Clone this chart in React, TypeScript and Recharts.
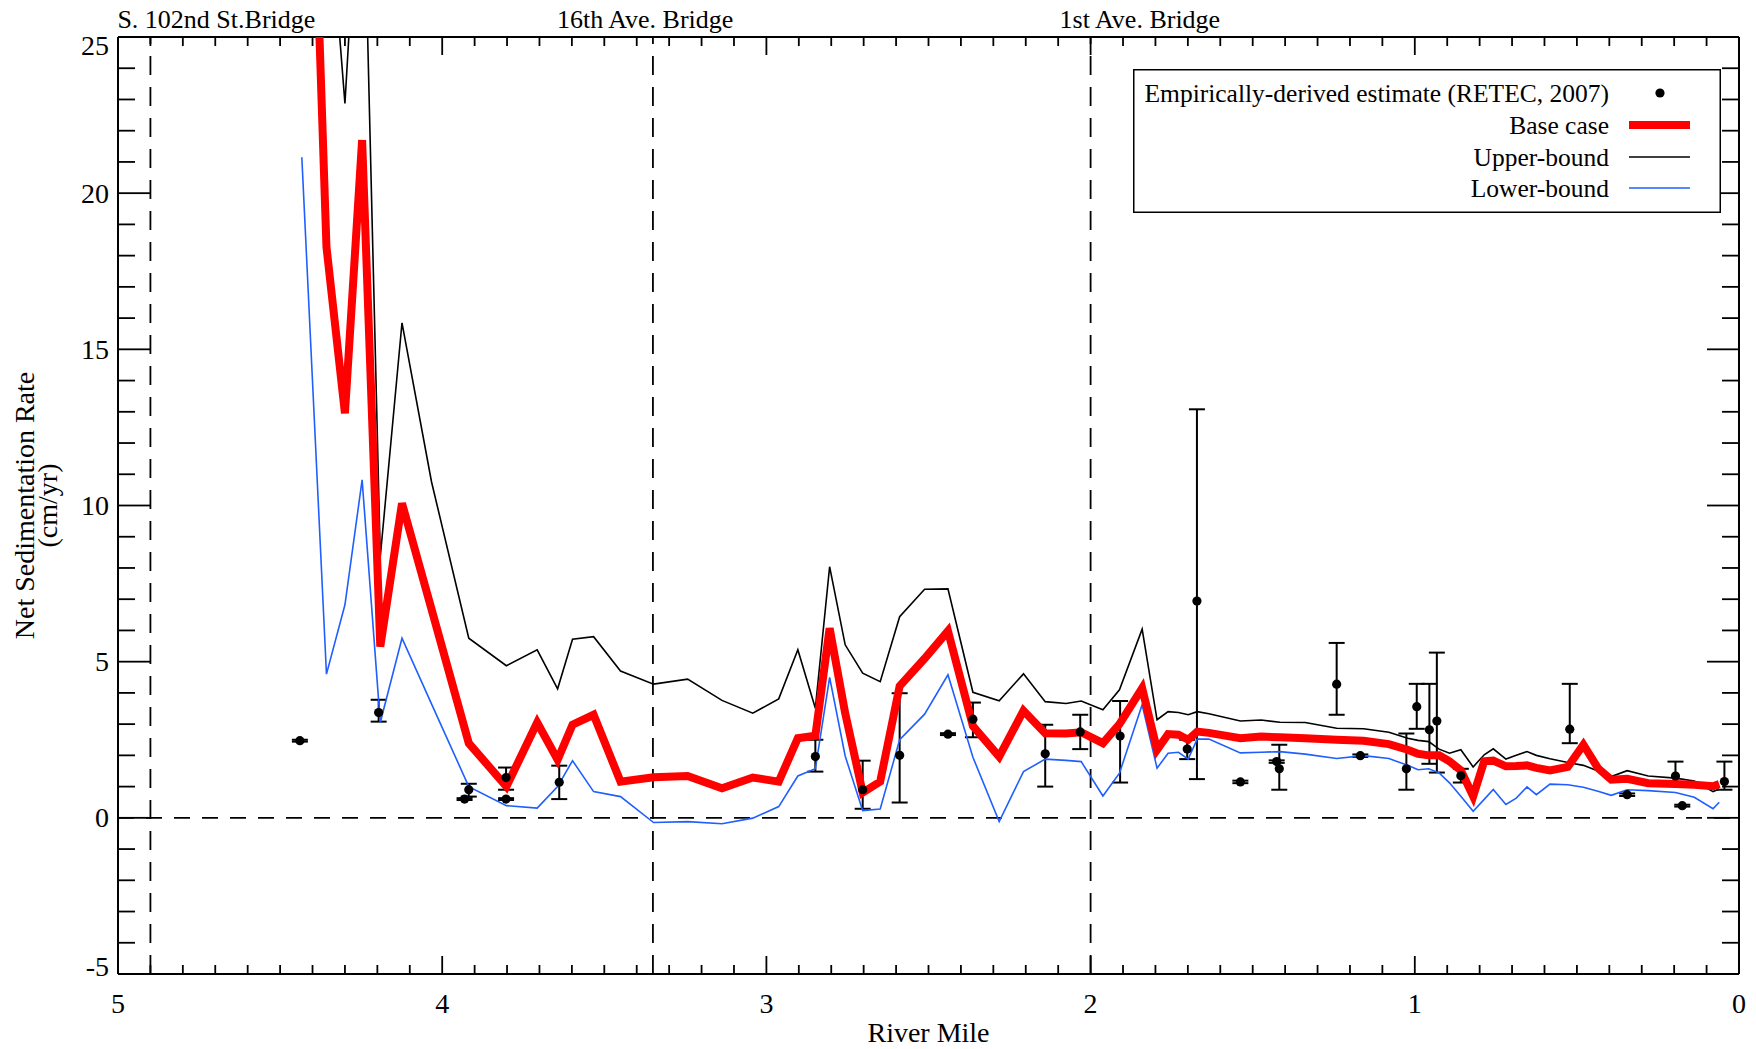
import React from 'react';
import { ComposedChart, Line, Scatter, XAxis, YAxis, ReferenceLine, ErrorBar } from 'recharts';

const FONT = "'Liberation Serif', 'Times New Roman', serif";

// River mile positions of the model output
const riverMile = [
  4.433, 4.357, 4.300, 4.247, 4.191, 4.124, 4.033, 3.918, 3.802, 3.707,
  3.644, 3.598, 3.533, 3.450, 3.348, 3.243, 3.137, 3.042, 2.962, 2.903,
  2.849, 2.805, 2.757, 2.703, 2.649, 2.589, 2.512, 2.440, 2.363, 2.282,
  2.207, 2.140, 2.076, 2.029, 1.962, 1.911, 1.841, 1.795, 1.761, 1.729,
  1.699, 1.671, 1.635, 1.538, 1.474, 1.416, 1.338, 1.241, 1.158, 1.080,
  1.022, 0.990, 0.957, 0.925, 0.893, 0.858, 0.820, 0.786, 0.758, 0.719,
  0.687, 0.654, 0.625, 0.583, 0.528, 0.480, 0.435, 0.394, 0.345, 0.280,
  0.196, 0.138, 0.080, 0.061,
];

const baseCase = [
  42.0, 18.28, 12.95, 21.7, 5.48, 10.07, 6.68, 2.39, 1.0, 3.05,
  1.86, 2.98, 3.30, 1.16, 1.30, 1.34, 0.95, 1.29, 1.16, 2.55,
  2.63, 6.07, 3.35, 0.81, 1.16, 4.22, 5.1, 5.98, 2.94, 1.96,
  3.43, 2.71, 2.70, 2.74, 2.39, 3.0, 4.15, 2.18, 2.68, 2.66,
  2.50, 2.76, 2.72, 2.55, 2.60, 2.58, 2.55, 2.50, 2.47, 2.36,
  2.18, 2.05, 2.00, 2.00, 1.81, 1.52, 0.69, 1.81, 1.83, 1.65,
  1.66, 1.68, 1.60, 1.52, 1.63, 2.34, 1.59, 1.22, 1.25, 1.11,
  1.08, 1.06, 1.01, 1.08,
];

const upperBound = [
  45.0, 30.4, 22.87, 32.3, 8.36, 15.85, 10.76, 5.75, 4.87, 5.38,
  4.13, 5.72, 5.80, 4.70, 4.28, 4.44, 3.76, 3.35, 3.81, 5.38,
  3.51, 8.04, 5.54, 4.63, 4.36, 6.44, 7.32, 7.33, 4.02, 3.75,
  4.61, 3.72, 3.66, 3.74, 3.46, 4.10, 6.04, 3.14, 3.40, 3.37,
  3.30, 3.40, 3.33, 3.10, 3.13, 3.06, 3.05, 2.87, 2.85, 2.74,
  2.55, 2.48, 2.44, 2.20, 2.07, 2.18, 1.63, 2.02, 2.21, 1.88,
  2.00, 2.12, 2.00, 1.89, 1.77, 1.68, 1.50, 1.32, 1.51, 1.34,
  1.27, 1.18, 0.84, 0.92,
];

const lowerBound = [
  21.15, 4.60, 6.82, 10.82, 3.05, 5.75, 3.65, 1.0, 0.39, 0.31,
  1.0, 1.83, 0.84, 0.68, -0.15, -0.12, -0.19, -0.01, 0.36, 1.34,
  1.57, 4.50, 1.98, 0.23, 0.28, 2.50, 3.32, 4.58, 1.94, -0.12,
  1.48, 1.88, 1.84, 1.80, 0.70, 1.43, 3.62, 1.59, 2.07, 2.10,
  1.88, 2.52, 2.52, 2.08, 2.10, 2.12, 2.04, 1.90, 1.99, 1.90,
  1.68, 1.54, 1.57, 1.44, 1.12, 0.69, 0.21, 0.59, 0.91, 0.43,
  0.63, 0.99, 0.74, 1.08, 1.06, 0.98, 0.85, 0.72, 0.90, 0.87,
  0.81, 0.66, 0.29, 0.50,
];

// Empirically-derived estimate (RETEC, 2007)
const obsMile = [
  4.439, 4.196, 3.931, 3.918, 3.803, 3.803, 3.639, 2.849, 2.703, 2.589,
  2.440, 2.363, 2.140, 2.032, 1.909, 1.702, 1.672, 1.538, 1.426, 1.418,
  1.241, 1.168, 1.026, 0.994, 0.955, 0.932, 0.858, 0.522, 0.345, 0.196,
  0.175, 0.045,
];
const obsRate = [
  2.47, 3.37, 0.60, 0.90, 0.60, 1.29, 1.14, 1.96, 0.90, 2.0,
  2.68, 3.16, 2.05, 2.75, 2.62, 2.20, 6.94, 1.15, 1.80, 1.57,
  4.28, 1.99, 1.57, 3.56, 2.82, 3.10, 1.35, 2.84, 0.74, 1.34,
  0.39, 1.16,
];
const obsErrLow = [
  0.03, 0.29, 0.03, 0.22, 0.03, 0.39, 0.54, 0.48, 0.61, 1.51,
  0.03, 0.58, 1.05, 0.55, 1.49, 0.32, 5.70, 0.04, 0.04, 0.67,
  0.98, 0.04, 0.67, 0.71, 1.09, 1.65, 0.22, 0.45, 0.04, 0.29,
  0.03, 0.26,
];
const obsErrHigh = [
  0.03, 0.41, 0.03, 0.19, 0.03, 0.32, 0.53, 0.54, 0.93, 1.99,
  0.03, 0.53, 0.93, 0.55, 1.12, 0.30, 6.14, 0.04, 0.04, 0.77,
  1.32, 0.04, 1.13, 0.73, 1.47, 2.19, 0.22, 1.45, 0.04, 0.46,
  0.03, 0.64,
];

const bridgeMiles = [4.9, 3.35, 2.0];
const bridgeNames = ['S. 102nd St.Bridge', '16th Ave. Bridge', '1st Ave. Bridge'];
const bridgeLabelDx = [-33, -96, -31];

const xMajorTicks = [5, 4, 3, 2, 1, 0];
const yMajorTicks = [-5, 0, 5, 10, 15, 20, 25];
const xMinorTicks = Array.from({ length: 51 }, (_, i) => i / 10);
const yMinorTicks = Array.from({ length: 31 }, (_, i) => i - 5);
const topTicks = [...xMinorTicks, 3.35];

const legendLabels = [
  'Empirically-derived estimate (RETEC, 2007)',
  'Base case',
  'Upper-bound',
  'Lower-bound',
];

const baseData = riverMile.map((x, i) => ({ x, y: baseCase[i] }));
const upperData = riverMile.map((x, i) => ({ x, y: upperBound[i] }));
const lowerData = riverMile.map((x, i) => ({ x, y: lowerBound[i] }));
const obsData = obsMile.map((x, i) => ({ x, y: obsRate[i], err: [obsErrLow[i], obsErrHigh[i]] }));

const RED = '#ff0000';
const BLUE = '#1f5fff';
const X_DOMAIN: [number, number] = [0, 5];
const Y_DOMAIN: [number, number] = [-5, 25];
const TICK_W = 1.8;
const Y_LABEL_GAP = 9;
const X_MAJ = 18, X_MIN = 9, Y_MAJ = 32, Y_MIN = 17;

const isXMajor = (v: number) => xMajorTicks.includes(v);
const isXTick = (v: number) => xMinorTicks.includes(v);
const isYMajor = (v: number) => yMajorTicks.includes(v);

const XBottomTick = (p: any) => {
  const v = p.payload.value;
  const len = isXMajor(v) ? X_MAJ : X_MIN;
  return (
    <g>
      <line x1={p.x} y1={p.y} x2={p.x} y2={p.y - len} stroke="#000" strokeWidth={TICK_W} />
      {isXMajor(v) && (
        <text x={p.x} y={p.y + 29.5} textAnchor="middle" dominantBaseline="central" fontSize={28} fontFamily={FONT} fill="#000">
          {v}
        </text>
      )}
    </g>
  );
};

const XTopTick = (p: any) => {
  const v = p.payload.value;
  const bi = bridgeMiles.indexOf(v);
  const len = isXMajor(v) ? X_MAJ : X_MIN;
  return (
    <g>
      {isXTick(v) && <line x1={p.x} y1={p.y} x2={p.x} y2={p.y + len} stroke="#000" strokeWidth={TICK_W} />}
      {bi >= 0 && (
        <text x={p.x + bridgeLabelDx[bi]} y={p.y - 9} textAnchor="start" fontSize={26} fontFamily={FONT} fill="#000">
          {bridgeNames[bi]}
        </text>
      )}
    </g>
  );
};

const YLeftTick = (p: any) => {
  const v = p.payload.value;
  const major = isYMajor(v);
  const x0 = p.x + Y_LABEL_GAP;
  const shift = v === 25 ? 8 : v === -5 ? -8 : 0;
  return (
    <g>
      <line x1={x0} y1={p.y} x2={x0 + (major ? Y_MAJ : Y_MIN)} y2={p.y} stroke="#000" strokeWidth={TICK_W} />
      {major && (
        <text x={p.x} y={p.y + shift} textAnchor="end" dominantBaseline="central" fontSize={28} fontFamily={FONT} fill="#000">
          {v}
        </text>
      )}
    </g>
  );
};

const YRightTick = (p: any) => {
  const v = p.payload.value;
  const len = isYMajor(v) ? Y_MAJ : Y_MIN;
  return <line x1={p.x} y1={p.y} x2={p.x - len} y2={p.y} stroke="#000" strokeWidth={TICK_W} />;
};

const YTitle = (p: any) => {
  const vb = p.viewBox ?? { x: 0, y: 37, width: 118, height: 937 };
  const cy = vb.y + vb.height / 2;
  const x1 = vb.x + 24.6;
  const x2 = vb.x + 47;
  return (
    <g>
      <text x={x1} y={cy} transform={`rotate(-90 ${x1} ${cy})`} textAnchor="middle" dominantBaseline="central" fontSize={28} fontFamily={FONT} fill="#000">
        Net Sedimentation Rate
      </text>
      <text x={x2} y={cy} transform={`rotate(-90 ${x2} ${cy})`} textAnchor="middle" dominantBaseline="central" fontSize={28} fontFamily={FONT} fill="#000">
        (cm/yr)
      </text>
    </g>
  );
};

const Dot = (p: any) => <circle cx={p.cx} cy={p.cy} r={4.6} fill="#000" />;

const LegendBox = () => {
  const rows = [24, 56, 88, 119];
  return (
    <svg width={588} height={144} style={{ position: 'absolute', left: 1133, top: 69 }}>
      <rect x={0.75} y={0.75} width={586.5} height={142.5} fill="#fff" stroke="#000" strokeWidth={1.5} />
      {legendLabels.map((t, i) => (
        <text key={t} x={476} y={rows[i]} textAnchor="end" dominantBaseline="central" fontSize={25.5} fontFamily={FONT} fill="#000">
          {t}
        </text>
      ))}
      <circle cx={527} cy={rows[0]} r={4.6} fill="#000" />
      <line x1={496} x2={557} y1={rows[1]} y2={rows[1]} stroke={RED} strokeWidth={8} />
      <line x1={496} x2={557} y1={rows[2]} y2={rows[2]} stroke="#000" strokeWidth={1.6} />
      <line x1={496} x2={557} y1={rows[3]} y2={rows[3]} stroke={BLUE} strokeWidth={1.6} />
    </svg>
  );
};

export default function App() {
  return (
    <div style={{ position: 'relative', width: 1756, height: 1049, marginTop: -8, marginLeft: -8, fontFamily: FONT }}>
      <ComposedChart width={1756} height={1049} margin={{ top: 0, right: 0, bottom: 0, left: 0 }}>
        <XAxis
          xAxisId="x" type="number" dataKey="x" domain={X_DOMAIN} reversed allowDataOverflow
          orientation="bottom" height={75} ticks={xMinorTicks} interval={0}
          tickLine={false} tickSize={0} tickMargin={0} axisLine={false} tick={XBottomTick}
          label={{ value: 'River Mile', position: 'insideBottom', offset: 7, fontSize: 28, fontFamily: FONT, fill: '#000' }}
        />
        <XAxis
          xAxisId="top" type="number" dataKey="x" domain={X_DOMAIN} reversed allowDataOverflow
          orientation="top" height={37} ticks={topTicks} interval={0}
          tickLine={false} tickSize={0} tickMargin={0} axisLine={false} tick={XTopTick}
        />
        <YAxis
          yAxisId="y" type="number" domain={Y_DOMAIN} allowDataOverflow orientation="left" width={118}
          ticks={yMinorTicks} interval={0} tickLine={false} tickSize={0} tickMargin={Y_LABEL_GAP} axisLine={false} tick={YLeftTick}
          label={{ content: YTitle }}
        />
        <YAxis
          yAxisId="right" type="number" domain={Y_DOMAIN} allowDataOverflow orientation="right" width={17}
          ticks={yMinorTicks} interval={0} tickLine={false} tickSize={0} tickMargin={0} axisLine={false} tick={YRightTick}
        />

        {/* plot frame */}
        <ReferenceLine xAxisId="x" yAxisId="y" y={25} stroke="#000" strokeWidth={2} />
        <ReferenceLine xAxisId="x" yAxisId="y" y={-5} stroke="#000" strokeWidth={2} />
        <ReferenceLine xAxisId="x" yAxisId="y" x={5} stroke="#000" strokeWidth={2} />
        <ReferenceLine xAxisId="x" yAxisId="y" x={0} stroke="#000" strokeWidth={2} />

        {bridgeMiles.map((m) => (
          <ReferenceLine key={m} xAxisId="x" yAxisId="y" x={m} stroke="#000" strokeWidth={1.8} strokeDasharray="19 12" />
        ))}
        <ReferenceLine xAxisId="x" yAxisId="y" y={0} stroke="#000" strokeWidth={1.8} strokeDasharray="16 12" />

        <Scatter xAxisId="x" yAxisId="y" data={obsData} dataKey="y" fill="#000" shape={Dot} isAnimationActive={false}>
          <ErrorBar dataKey="err" direction="y" width={8} stroke="#000" strokeWidth={2} isAnimationActive={false} />
        </Scatter>

        <Line xAxisId="x" yAxisId="y" data={upperData} dataKey="y" type="linear" stroke="#000" strokeWidth={1.6}
          dot={false} activeDot={false} isAnimationActive={false} />
        <Line xAxisId="x" yAxisId="y" data={lowerData} dataKey="y" type="linear" stroke={BLUE} strokeWidth={1.6}
          dot={false} activeDot={false} isAnimationActive={false} />
        <Line xAxisId="x" yAxisId="y" data={baseData} dataKey="y" type="linear" stroke={RED} strokeWidth={8}
          dot={false} activeDot={false} isAnimationActive={false} />
      </ComposedChart>
      <LegendBox />
    </div>
  );
}
